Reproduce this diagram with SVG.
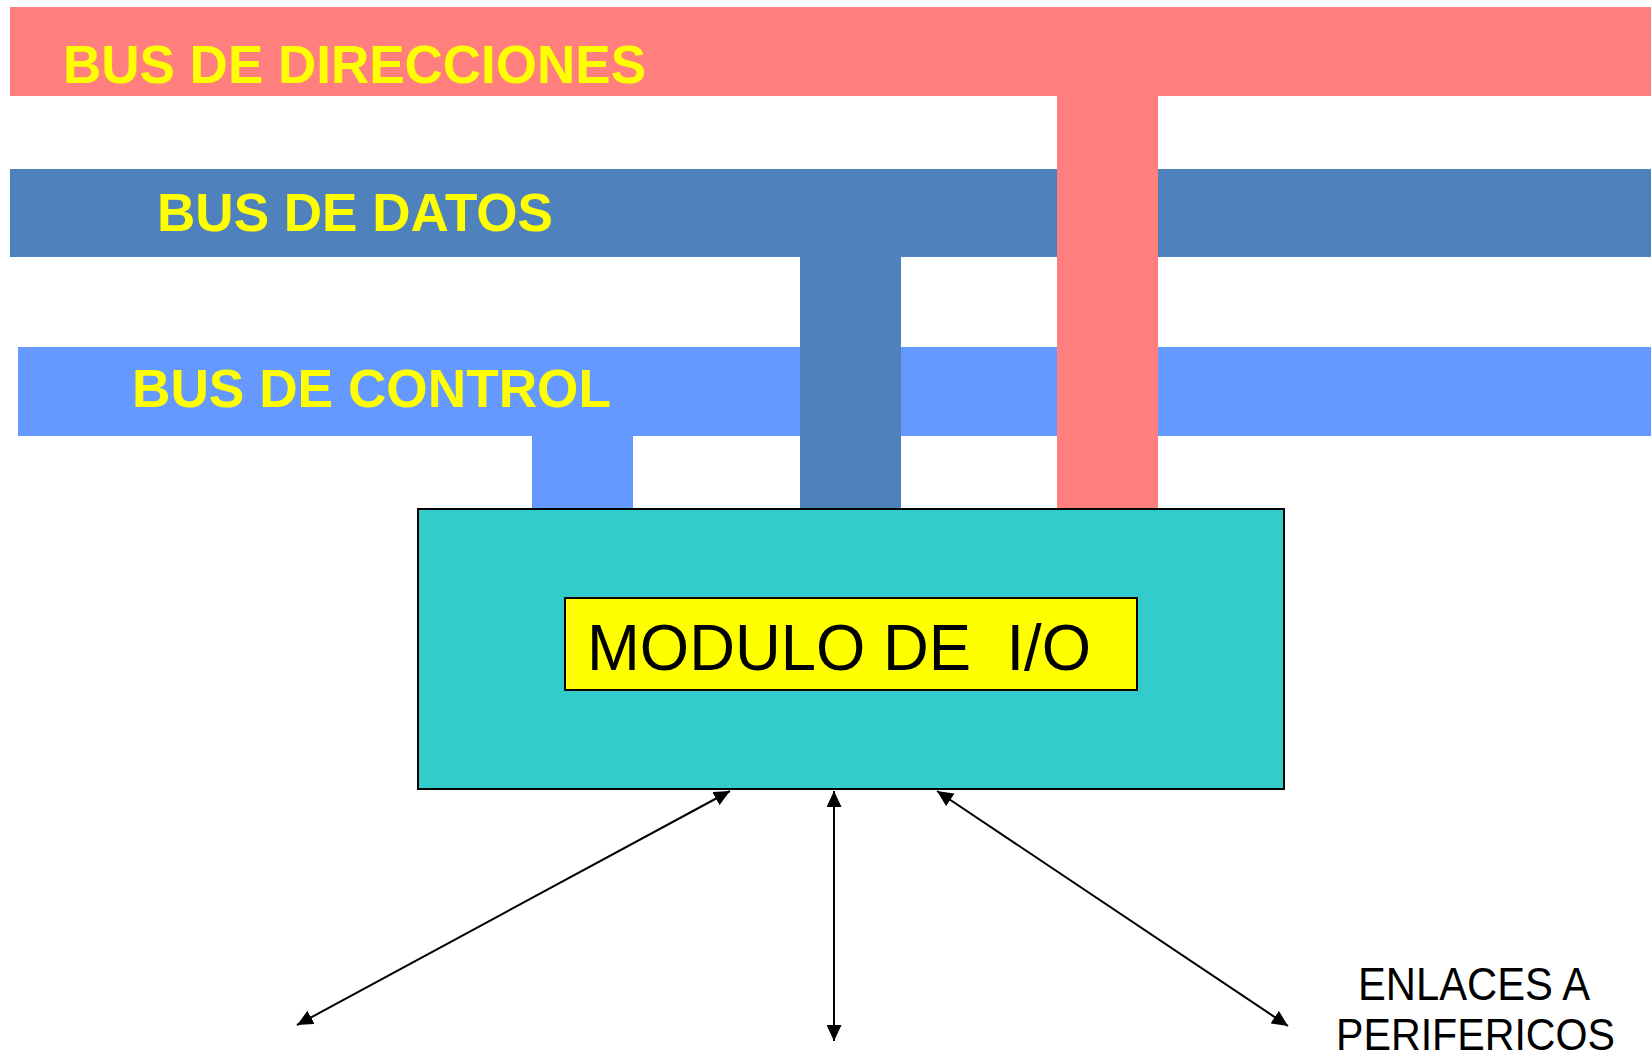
<svg xmlns="http://www.w3.org/2000/svg" width="1651" height="1053" viewBox="0 0 1651 1053">
<style>
.bus{font-family:"Liberation Sans",Arial,sans-serif;font-weight:bold;font-size:53px;fill:#FFFF00}
.lbl{font-family:"Liberation Sans",Arial,sans-serif;fill:#000000;white-space:pre}
.con{stroke:#000;stroke-width:2;fill:none;marker-start:url(#ah);marker-end:url(#ah)}
.addr{fill:#FF7F7F}
.data{fill:#4F81BD}
.ctrl{fill:#6699FF}
</style>
<defs>
<marker id="ah" markerUnits="userSpaceOnUse" markerWidth="17" markerHeight="15" refX="16" refY="7.5" orient="auto-start-reverse" viewBox="0 0 17 15">
<path d="M0,0 L16,7.5 L0,15 z" fill="#000"/>
</marker>
</defs>
<rect width="1651" height="1053" fill="#FFFFFF"/>
<g id="bus-direcciones">
<rect class="addr" x="10" y="7" width="1641" height="89"/>
<text class="bus" x="63" y="83" textLength="583" lengthAdjust="spacingAndGlyphs">BUS DE DIRECCIONES</text>
</g>
<g id="bus-datos">
<rect class="data" x="10" y="169" width="1641" height="88"/>
<text class="bus" x="157" y="231" textLength="396" lengthAdjust="spacingAndGlyphs">BUS DE DATOS</text>
</g>
<g id="bus-control">
<rect class="ctrl" x="18" y="347" width="1633" height="89"/>
<text class="bus" x="132" y="407" textLength="479" lengthAdjust="spacingAndGlyphs">BUS DE CONTROL</text>
</g>
<g id="stubs">
<rect class="ctrl" x="532" y="435" width="101" height="74"/>
<rect class="data" x="800" y="256" width="101" height="253"/>
<rect class="addr" x="1057" y="95" width="101" height="414"/>
</g>
<g id="modulo-io">
<rect x="418" y="509" width="866" height="280" fill="#33CCCC" stroke="#000" stroke-width="2"/>
<rect x="565" y="598" width="572" height="92" fill="#FFFF00" stroke="#000" stroke-width="2"/>
<text class="lbl" x="587" y="670" font-size="65" textLength="504" lengthAdjust="spacingAndGlyphs">MODULO DE  I/O</text>
</g>
<g id="connectors">
<line class="con" x1="730" y1="791" x2="297" y2="1025"/>
<line class="con" x1="834" y1="791" x2="834" y2="1041"/>
<line class="con" x1="937" y1="791" x2="1288" y2="1026"/>
</g>
<g id="enlaces">
<text class="lbl" x="1358" y="1000" font-size="46" textLength="232" lengthAdjust="spacingAndGlyphs">ENLACES A</text>
<text class="lbl" x="1336" y="1050" font-size="45" textLength="279" lengthAdjust="spacingAndGlyphs">PERIFERICOS</text>
</g>
</svg>
